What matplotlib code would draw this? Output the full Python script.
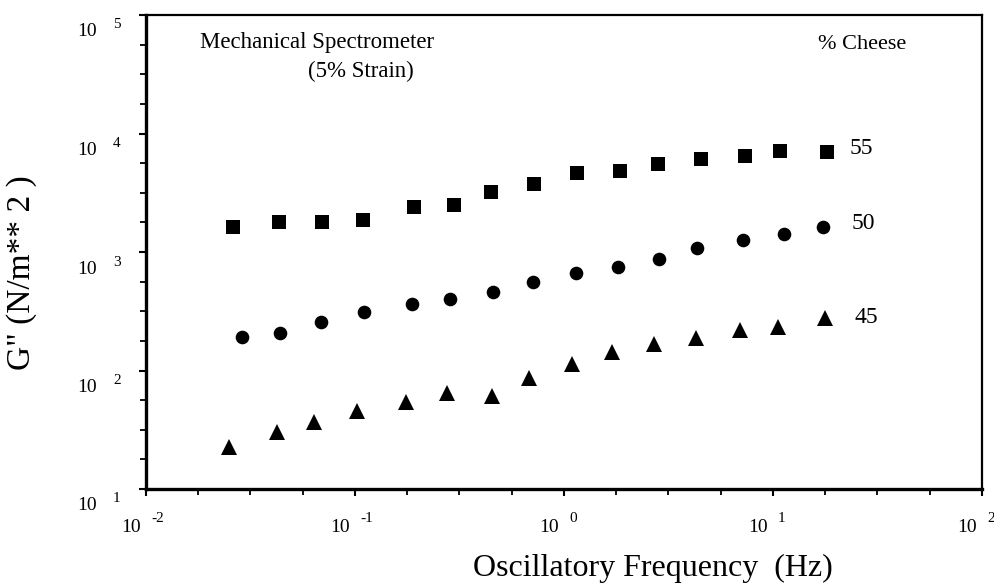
import numpy as np
import matplotlib.pyplot as plt
from matplotlib.ticker import FixedLocator, NullFormatter
from matplotlib.transforms import ScaledTranslation

plt.rcParams['font.family'] = ['Liberation Serif', 'DejaVu Serif']

# 55 % cheese (squares)
freq_55 = [0.0261, 0.0433, 0.0695, 0.109, 0.191, 0.298, 0.448, 0.718,
           1.153, 1.853, 2.82, 4.53, 7.35, 10.8, 18.1]
g_55 = [1637, 1803, 1781, 1862, 2384, 2494, 3228, 3748,
        4670, 4856, 5495, 6057, 6457, 7117, 7022]

# 50 % cheese (circles)
freq_50 = [0.0288, 0.0438, 0.0688, 0.1104, 0.1874, 0.285, 0.457, 0.711,
           1.141, 1.813, 2.85, 4.33, 7.19, 11.29, 17.35]
g_50 = [190.6, 208.4, 255.2, 313.5, 364, 399, 462, 561,
        669, 751, 873, 1074, 1263, 1410, 1616]

# 45 % cheese (triangles)
freq_45 = [0.0249, 0.0424, 0.0636, 0.1022, 0.1754, 0.2754, 0.452, 0.680,
           1.092, 1.697, 2.696, 4.28, 6.95, 10.57, 17.74]
g_45 = [22.6, 30.3, 36.7, 45.5, 54.2, 64.6, 60.9, 86.4,
        113.5, 143.3, 167.4, 188, 219.8, 232.8, 277.3]

x_decades = [-2, -1, 0, 1, 2]
y_decades = [1, 2, 3, 4, 5]

fig = plt.figure(figsize=(9.95, 5.86), dpi=100)
ax = fig.add_axes([146/995, 1-489/586, 836/995, 474/586])
ax.set_xscale('log')
ax.set_yscale('log')
ax.set_xlim(10.0**x_decades[0], 10.0**x_decades[-1])
ax.set_ylim(10.0**y_decades[0], 10.0**y_decades[-1])

ax.plot(freq_55, g_55, 's', color='black', ms=9.5, mew=0)
ax.plot(freq_50, g_50, 'o', color='black', ms=9.8, mew=0)
ax.plot(freq_45, g_45, '^', color='black', ms=12, mew=0)

# ticks: majors at decades, minors every quarter decade
xmaj = [10.0**d for d in x_decades]
ymaj = [10.0**d for d in y_decades]
xmin = [10.0**(d + j/4) for d in x_decades[:-1] for j in (1, 2, 3)]
ymin = [10.0**(d + j/4) for d in y_decades[:-1] for j in (1, 2, 3)]
ax.xaxis.set_major_locator(FixedLocator(xmaj))
ax.yaxis.set_major_locator(FixedLocator(ymaj))
ax.xaxis.set_minor_locator(FixedLocator(xmin))
ax.yaxis.set_minor_locator(FixedLocator(ymin))
for axis in (ax.xaxis, ax.yaxis):
    axis.set_major_formatter(NullFormatter())
    axis.set_minor_formatter(NullFormatter())
ax.tick_params(which='major', direction='out', length=5, width=1.5)
ax.tick_params(which='minor', direction='out', length=4, width=1.3)

for s in ax.spines.values():
    s.set_linewidth(1.6)
ax.spines['left'].set_linewidth(2.4)
ax.spines['bottom'].set_linewidth(2.4)

px = 0.72 / 72  # one pixel in inches at 100 dpi
# y tick labels "10 n"
for d in y_decades:
    tr = ax.get_yaxis_transform()
    ax.text(0, 10.0**d, '10', fontsize=14, ha='right', va='center',
            transform=tr + ScaledTranslation(-49*px, -17*px, fig.dpi_scale_trans))
    ax.text(0, 10.0**d, str(d), fontsize=11, ha='left', va='center',
            transform=tr + ScaledTranslation(-33*px, -10*px, fig.dpi_scale_trans))
# x tick labels
for d in x_decades:
    tr = ax.get_xaxis_transform()
    ax.text(10.0**d, 0, '10', fontsize=14, ha='right', va='center',
            transform=tr + ScaledTranslation(-5*px, -39*px, fig.dpi_scale_trans))
    ax.text(10.0**d, 0, str(d), fontsize=11, ha='left', va='center',
            transform=tr + ScaledTranslation(5*px, -29*px, fig.dpi_scale_trans))

ax.text(0.0646, 0.941, 'Mechanical Spectrometer', fontsize=16.5,
        ha='left', va='center', transform=ax.transAxes)
ax.text(0.194, 0.880, '(5% Strain)', fontsize=16.5,
        ha='left', va='center', transform=ax.transAxes)
ax.text(0.804, 0.937, '% Cheese', fontsize=16,
        ha='left', va='center', transform=ax.transAxes)
ax.text(0.842, 0.719, '55', fontsize=17, ha='left', va='center', transform=ax.transAxes)
ax.text(0.8445, 0.561, '50', fontsize=17, ha='left', va='center', transform=ax.transAxes)
ax.text(0.848, 0.361, '45', fontsize=17, ha='left', va='center', transform=ax.transAxes)

fig.text(473/995, 1-568/586, 'Oscillatory Frequency  (Hz)', fontsize=23,
         ha='left', va='center')
fig.text(22/995, 1-273/586, 'G" (N/m** 2 )', fontsize=24, rotation=90,
         ha='center', va='center')

fig.savefig('out.png', dpi=100)
